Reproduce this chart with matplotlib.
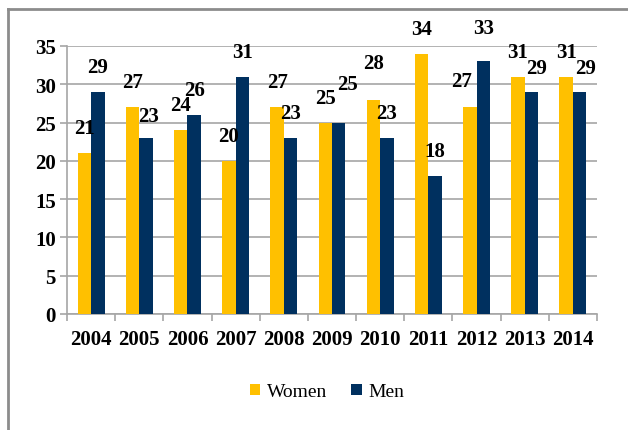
#!/usr/bin/env python3
"""Women vs men per year, clustered bars with value labels (Excel-like style)."""

import numpy as np
import matplotlib.pyplot as plt
from matplotlib.lines import Line2D

years = ['2004', '2005', '2006', '2007', '2008', '2009',
         '2010', '2011', '2012', '2013', '2014']
women = [21, 27, 24, 20, 27, 25, 28, 34, 27, 31, 31]
men = [29, 23, 26, 31, 23, 25, 23, 18, 33, 29, 29]

WOMEN_COLOR = '#FFC000'
MEN_COLOR = '#00305F'
GRID_COLOR = '#A6A6A6'

# label nudges (points) where the original labels were moved to avoid overlap
women_nudge = [(0, 0)] * 11
men_nudge = [(0, 0)] * 11
women_nudge[6] = (0, 8)      # 2010
women_nudge[8] = (-6, 1)     # 2012
men_nudge[1] = (2, -2)       # 2005
men_nudge[5] = (6, 10)       # 2009
men_nudge[8] = (0, 6)        # 2012
men_nudge[9] = (4, -1)       # 2013
men_nudge[10] = (4, -1)      # 2014

plt.rcParams['font.family'] = ['Liberation Serif', 'DejaVu Serif']

fig = plt.figure(figsize=(6.28, 4.31), dpi=100)
ax = fig.add_axes([67 / 628, 1 - 315 / 431, 530 / 628, 268 / 431])

x = np.arange(len(years))
w = 0.28
bw = ax.bar(x - w / 2, women, w, color=WOMEN_COLOR, label='Women', zorder=3)
bm = ax.bar(x + w / 2, men, w, color=MEN_COLOR, label='Men', zorder=3)

# value labels, centred ~18pt above the bar top
for bars, vals, nudge in ((bw, women, women_nudge), (bm, men, men_nudge)):
    for b, v, (dx, dy) in zip(bars, vals, nudge):
        ax.annotate(str(v), (b.get_x() + b.get_width() / 2, v),
                    xytext=(dx, 18 + dy), textcoords='offset points',
                    ha='center', va='center', fontsize=15, fontweight='bold',
                    zorder=4)

ax.set_xlim(-0.5, len(years) - 0.5)
ax.set_ylim(0, 35)
ax.set_yticks(range(0, 36, 5))
ax.set_xticks(x)
ax.set_xticklabels(years)
ax.set_xticks(np.arange(-0.5, len(years), 1), minor=True)

ax.yaxis.grid(True, color=GRID_COLOR, linewidth=1.2, zorder=0)
ax.set_axisbelow(True)
for side in ('top', 'right'):
    ax.spines[side].set_visible(False)
for side in ('left', 'bottom'):
    ax.spines[side].set_color(GRID_COLOR)
    ax.spines[side].set_linewidth(1.2)

ax.tick_params(axis='y', length=5, width=1.2, color=GRID_COLOR, pad=3,
               labelsize=15)
ax.tick_params(axis='x', which='major', length=0, pad=11, labelsize=15)
ax.tick_params(axis='x', which='minor', length=5, width=1.2, color=GRID_COLOR)
for lab in ax.get_xticklabels() + ax.get_yticklabels():
    lab.set_fontweight('bold')

fig.legend(handles=[bw, bm], labels=['Women', 'Men'], loc='center',
           bbox_to_anchor=(327 / 628, 1 - 393 / 431), ncol=2, frameon=False,
           prop={'family': 'Liberation Serif', 'size': 14},
           handlelength=0.55, handleheight=0.55,
           handletextpad=0.35, columnspacing=1.2)

# grey outer frame (top and left edges only are visible in the original)
frame_kw = dict(color='#8C8C8C', linewidth=2, transform=fig.transFigure)
fig.add_artist(Line2D([8 / 628, 1.0], [1 - 10 / 431] * 2, **frame_kw))
fig.add_artist(Line2D([8 / 628] * 2, [0.0, 1 - 10 / 431], **frame_kw))

fig.savefig('out.png', dpi=100)
